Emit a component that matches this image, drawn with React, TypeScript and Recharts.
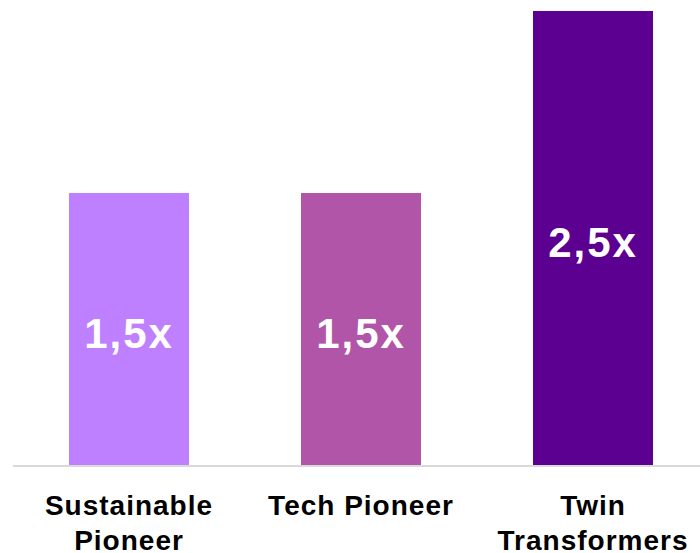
import React from 'react';
import { BarChart, Bar, XAxis, YAxis, Cell, LabelList } from 'recharts';

const categories = ['Sustainable Pioneer', 'Tech Pioneer', 'Twin Transformers'];
const tickLines = [['Sustainable', 'Pioneer'], ['Tech Pioneer'], ['Twin', 'Transformers']];
const values = [1.5, 1.5, 2.5];
const colors = ['#BF80FF', '#B155A8', '#5C0091'];

const data = categories.map((c, i) => ({ name: c, value: values[i] }));

const FONT = '"Liberation Sans", Arial, sans-serif';

const Tick = (props: any) => {
  const { x, y, index } = props;
  const lines = tickLines[index] || [];
  return (
    <text x={x} y={y} textAnchor="middle" fill="#000" fontFamily={FONT} fontWeight="bold" fontSize={28} letterSpacing={1}>
      {lines.map((l, i) => (
        <tspan key={i} x={x} y={466 + 49 + i * 35}>{l}</tspan>
      ))}
    </text>
  );
};

const ValueLabel = (props: any) => {
  const { x, y, width, height, value } = props;
  const cx = x + width / 2;
  const cy = y + height / 2;
  return (
    <text x={cx} y={cy + 18} textAnchor="middle" fill="#fff" fontFamily={FONT} fontWeight="bold" fontSize={42} letterSpacing={2}>
      {String(value).replace('.', ',') + 'x'}
    </text>
  );
};

export default function App() {
  return (
    <div style={{ position: 'absolute', left: 0, top: 0, width: 700, height: 553, overflow: 'hidden', background: '#fff' }}>
      <BarChart width={709} height={553} data={data} margin={{ top: 11, right: 0, bottom: 0, left: 13 }}>
        <YAxis hide domain={[0, 2.5]} />
        <XAxis
          dataKey="name"
          height={87}
          axisLine={{ stroke: '#d9d9d9', strokeWidth: 2 }}
          tickLine={false}
          tickSize={0}
          tickMargin={0}
          tick={<Tick />}
          interval={0}
        />
        <Bar dataKey="value" barSize={120} isAnimationActive={false}>
          {data.map((d, i) => (
            <Cell key={i} fill={colors[i]} />
          ))}
          <LabelList dataKey="value" content={<ValueLabel />} />
        </Bar>
      </BarChart>
    </div>
  );
}
